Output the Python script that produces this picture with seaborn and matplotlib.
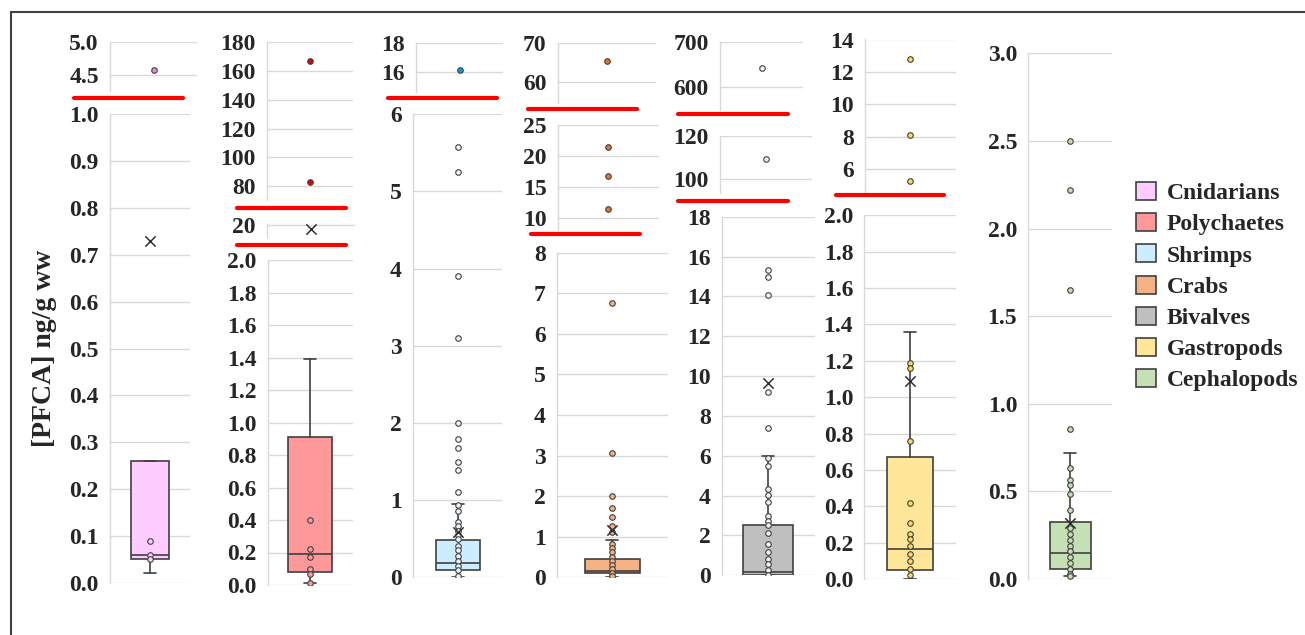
import numpy as np
import matplotlib
matplotlib.use("Agg")
import matplotlib.pyplot as plt
from matplotlib.lines import Line2D
from matplotlib.patches import Patch
import seaborn as sns

# ---------------- data ----------------
groups = ["Cnidarians", "Polychaetes", "Shrimps", "Crabs", "Bivalves", "Gastropods", "Cephalopods"]
box_colors = ["#FFCCFF", "#FF9999", "#CCECFF", "#F4B183", "#BFBFBF", "#FFE699", "#C5E0B4"]
dot_low = ["#FFCCFF", "#FF9999", "#EAF6FF", "#F4B183", "#F2F2F2", "#FFD966", "#C5E0B4"]
dot_high = ["#E58BE5", "#E00000", "#00A0E0", "#E2772F", "#F2F2F2", "#FFD966", "#C5E0B4"]

# box statistics (Excel style box & whisker)
whis_low = [0.02, 0.01, 0.0, 0.0, 0.0, 0.0, 0.015]
q1 = [0.05, 0.08, 0.10, 0.10, 0.03, 0.05, 0.057]
median = [0.06, 0.19, 0.19, 0.16, 0.18, 0.163, 0.151]
q3 = [0.26, 0.91, 0.48, 0.46, 2.50, 0.673, 0.327]
whis_high = [0.26, 1.39, 0.945, 0.92, 6.01, 1.36, 0.717]
means = [0.73, 19.4, 0.59, 1.17, 9.65, 1.09, 0.32]

# individual points
cnid_pts = [4.58, 0.09, 0.06, 0.05]
poly_pts = [167, 82.6, 0.40, 0.22, 0.17, 0.10, 0.07, 0.01]
shrimp_pts = [16.1, 5.58, 5.25, 3.90, 3.10, 2.00, 1.79, 1.67, 1.50, 1.39, 1.10, 0.94,
              0.86, 0.72, 0.66, 0.60, 0.55, 0.50, 0.41, 0.35, 0.28, 0.21, 0.15, 0.09, 0.02]
crab_pts = [65.3, 21.5, 16.8, 11.5, 6.75, 3.07, 2.00, 1.70, 1.49, 1.26, 1.11, 0.82,
            0.71, 0.62, 0.51, 0.41, 0.30, 0.20, 0.10, 0.02]
bivalve_pts = [641, 109.4, 15.3, 14.96, 14.07, 9.21, 7.39, 5.88, 5.49, 4.32, 4.04, 3.70,
               2.98, 2.75, 2.53, 2.14, 1.56, 1.16, 0.80, 0.55, 0.27, 0.03]
gastro_pts = [12.8, 8.12, 5.25, 1.19, 1.16, 0.76, 0.42, 0.31, 0.25, 0.22, 0.18, 0.14,
              0.10, 0.054, 0.02]
cephalo_pts = [2.50, 2.22, 1.65, 0.857, 0.636, 0.564, 0.534, 0.485, 0.394, 0.293, 0.259,
               0.225, 0.191, 0.158, 0.124, 0.09, 0.056, 0.029, 0.015]
points = [cnid_pts, poly_pts, shrimp_pts, crab_pts, bivalve_pts, gastro_pts, cephalo_pts]

# tick values of every axis segment (top to bottom)
ticks = [
    [[4.5, 5.0], [0.0, 0.1, 0.2, 0.3, 0.4, 0.5, 0.6, 0.7, 0.8, 0.9, 1.0]],
    [[80, 100, 120, 140, 160, 180], [20],
     [0.0, 0.2, 0.4, 0.6, 0.8, 1.0, 1.2, 1.4, 1.6, 1.8, 2.0]],
    [[16, 18], [0, 1, 2, 3, 4, 5, 6]],
    [[60, 70], [10, 15, 20, 25], [0, 1, 2, 3, 4, 5, 6, 7, 8]],
    [[600, 700], [100, 120], [0, 2, 4, 6, 8, 10, 12, 14, 16, 18]],
    [[6, 8, 10, 12, 14], [0.0, 0.2, 0.4, 0.6, 0.8, 1.0, 1.2, 1.4, 1.6, 1.8, 2.0]],
    [[0.0, 0.5, 1.0, 1.5, 2.0, 2.5, 3.0]],
]
tick_fmt = [["{:.1f}", "{:.1f}"], ["{:.0f}", "{:.0f}", "{:.1f}"], ["{:.0f}", "{:.0f}"],
            ["{:.0f}", "{:.0f}", "{:.0f}"], ["{:.0f}", "{:.0f}", "{:.0f}"],
            ["{:.0f}", "{:.1f}"], ["{:.1f}"]]

# ---------------- layout (pixel boxes of the reference) ----------------
W, H = 1305, 635
EDGE = "#404040"
GRID = "#D9D9D9"

# (x0, y_top, x1, y_bottom), ylim
segments = [
    [((110, 42, 197, 91), (4.26, 5.0)), ((110, 114.3, 190, 582.7), (0, 1.0))],
    [((266.7, 42.3, 353, 200), (70.3, 180)), ((266.7, 224, 355, 237), (18.38, 20.14)),
     ((267.7, 260, 353, 585), (0, 2.0))],
    [((416, 42.7, 503, 91.7), (14.6, 18)), ((413, 114.3, 502, 577.3), (0, 6))],
    [((557.7, 42.7, 655.7, 103.3), (54.5, 70)), ((557.7, 125, 659, 230), (8.1, 25)),
     ((556.7, 252.7, 668, 577.3), (0, 8))],
    [((720, 42, 803, 110), (548, 700)), ((720, 136, 811.7, 193.3), (93.5, 120)),
     ((721.7, 216.7, 815, 575.3), (0, 18))],
    [((865, 39.5, 955.7, 191.7), (4.6, 14)), ((864.3, 215.4, 955.7, 579), (0, 2.0))],
    [((1028.3, 53.4, 1111.7, 579), (0, 3.0))],
]
box_px = [38, 44, 44, 55, 50, 46, 41]
cap_px = 12
breaks = [(74, 183, 98), (236.7, 346, 207.7), (236.7, 346, 245), (388, 497, 98),
          (527.7, 636.7, 109.3), (530.7, 640, 233.7), (678, 787.7, 113.7),
          (678, 787.7, 201.3), (836, 944, 195.3)]

sns.set_style("white")
plt.rcParams["font.family"] = ["Liberation Serif", "DejaVu Serif"]
plt.rcParams["font.weight"] = "bold"

fig = plt.figure(figsize=(W / 100, H / 100), dpi=100)


def px_axes(x0, y0, x1, y1):
    return fig.add_axes([x0 / W, 1 - y1 / H, (x1 - x0) / W, (y1 - y0) / H])


for i, name in enumerate(groups):
    segs = segments[i]
    pts = np.array(points[i])
    for j, ((x0, y0, x1, y1), ylim) in enumerate(segs):
        ax = px_axes(x0, y0, x1, y1)
        ax.set_facecolor("none")
        ax.set_xlim(-0.5, 0.5)
        ax.set_ylim(*ylim)
        tk = ticks[i][j]
        ax.set_yticks(tk)
        ax.set_yticklabels([tick_fmt[i][j].format(t) for t in tk])
        ax.set_xticks([])
        ax.yaxis.grid(True, color=GRID, lw=1)
        ax.set_axisbelow(True)
        for s in ["top", "right", "bottom"]:
            ax.spines[s].set_visible(False)
        ax.spines["left"].set_color(GRID)
        ax.spines["left"].set_linewidth(1)
        ax.tick_params(axis="y", length=0, pad=8, labelsize=17)

        last = j == len(segs) - 1
        axis_px = x1 - x0
        if last:
            stats = [dict(whislo=whis_low[i], q1=q1[i], med=median[i], q3=q3[i],
                          whishi=whis_high[i], fliers=[])]
            ax.bxp(stats, positions=[0], widths=[box_px[i] / axis_px], patch_artist=True,
                   showfliers=False, showmeans=False, manage_ticks=False,
                   capwidths=[cap_px / axis_px],
                   boxprops=dict(facecolor=box_colors[i], edgecolor=EDGE, lw=1.2),
                   medianprops=dict(color=EDGE, lw=1.2),
                   whiskerprops=dict(color=EDGE, lw=1.2),
                   capprops=dict(color=EDGE, lw=1.2), zorder=2)

        sel = pts[(pts >= ylim[0]) & (pts <= ylim[1])]
        if len(sel):
            sns.scatterplot(x=np.zeros(len(sel)), y=sel, ax=ax, s=16,
                            color=dot_low[i] if last else dot_high[i],
                            edgecolor=EDGE, linewidth=0.8, legend=False, zorder=4)
        if ylim[0] <= means[i] <= ylim[1]:
            sns.scatterplot(x=[0], y=[means[i]], ax=ax, marker="x", s=55,
                            color="#303030", linewidth=1.1, legend=False, zorder=5)

# axis-break marks
for xa, xb, y in breaks:
    fig.add_artist(Line2D([xa / W, xb / W], [1 - y / H, 1 - y / H], color="#FF0000",
                          lw=3, transform=fig.transFigure))

# outer frame
fig.add_artist(Line2D([11 / W, 11 / W], [0, 1 - 12 / H], color=EDGE, lw=1.5,
                      transform=fig.transFigure))
fig.add_artist(Line2D([11 / W, 1], [1 - 12 / H, 1 - 12 / H], color=EDGE, lw=1.5,
                      transform=fig.transFigure))

fig.text(45 / W, 1 - 348 / H, "[PFCA] ng/g ww", rotation=90, fontsize=20,
         fontweight="bold", ha="center", va="center")

handles = [Patch(facecolor=c, edgecolor=EDGE, lw=1.2) for c in box_colors]
fig.legend(handles, groups, loc="upper left", bbox_to_anchor=(1136 / W, 1 - 182 / H),
           frameon=False, fontsize=17, handlelength=0.85, handleheight=0.8,
           handletextpad=0.45, labelspacing=0.38, borderpad=0, borderaxespad=0)

fig.savefig("out.png", dpi=100)
